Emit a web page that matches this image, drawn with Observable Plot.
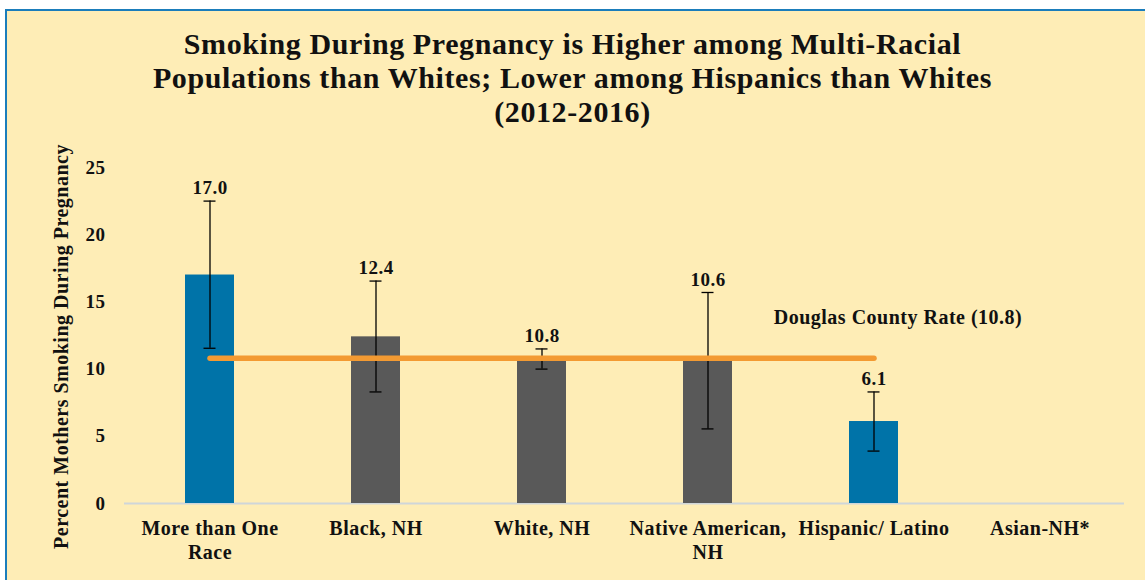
<!DOCTYPE html>
<html>
<head>
<meta charset="utf-8">
<script src="https://cdn.jsdelivr.net/npm/d3@7"></script>
<script src="https://cdn.jsdelivr.net/npm/@observablehq/plot@0.6"></script>
<style>
  html, body { margin: 0; padding: 0; background: #ffffff; width: 1145px; height: 580px; overflow: hidden; }
  #box { position: absolute; left: 5px; top: 9px; width: 1140px; height: 571px; background: #FEEDB6;
         border-left: 2px solid #1B7DBB; border-top: 2px solid #1B7DBB; }
  #title { position: absolute; left: 0; top: 27px; width: 1145px; text-align: center; letter-spacing: 0.6px;
           font-family: "Times New Roman", "DejaVu Serif", serif; font-weight: bold; font-size: 30px; line-height: 34px; color: #111; }
  #chart { position: absolute; left: 0; top: 140px; }
  #chart text { letter-spacing: 0.5px; }
</style>
</head>
<body>
<div id="box"></div>
<div id="title">Smoking During Pregnancy is Higher among Multi-Racial<br>Populations than Whites; Lower among Hispanics than Whites<br>(2012-2016)</div>
<div id="chart"></div>
<script>
const categories = ["More than One Race", "Black, NH", "White, NH", "Native American, NH", "Hispanic/ Latino", "Asian-NH*"];
const tickLabels = ["More than One\nRace", "Black, NH", "White, NH", "Native American,\nNH", "Hispanic/ Latino", "Asian-NH*"];
const values = [17.0, 12.4, 10.8, 10.6, 6.1, null];
const lower = [11.55, 8.3, 10.0, 5.55, 3.9, null];
const upper = [22.5, 16.55, 11.5, 15.7, 8.3, null];
const highlighted = [true, false, false, false, true, false];
const countyRate = 10.8;
const countyLabel = "Douglas County Rate (10.8)";
const yTicks = [0, 5, 10, 15, 20, 25];
const yLabel = "Percent Mothers Smoking During Pregnancy";

const rows = categories.map((c, i) => ({cat: c, value: values[i], lo: lower[i], hi: upper[i], hl: highlighted[i]}));
const barRows = rows.filter(d => d.value != null);
const lineRows = categories.slice(0, 5).map(c => ({cat: c, rate: countyRate}));
const tickMap = new Map(categories.map((c, i) => [c, tickLabels[i]]));

const font = "'Times New Roman', 'DejaVu Serif', serif";
const chart = Plot.plot({
  width: 1145,
  height: 440,
  marginTop: 27,
  marginBottom: 77,
  marginLeft: 124,
  marginRight: 21,
  style: {background: "transparent", fontFamily: font, fontWeight: "bold", fontSize: "19px", color: "#111", overflow: "visible"},
  x: {domain: categories, paddingInner: 0.706, paddingOuter: 0.353, align: 0.5},
  y: {domain: [0, 25]},
  marks: [
    Plot.ruleY([0], {stroke: "#CFD6D9", strokeWidth: 2}),
    Plot.barY(barRows, {x: "cat", y: "value", fill: d => d.hl ? "#0073A8" : "#595959"}),
    Plot.ruleX(barRows, {x: "cat", y1: "lo", y2: "hi", stroke: "#000", strokeWidth: 1.3}),
    Plot.tickY(barRows, {x: "cat", y: "lo", stroke: "#000", strokeWidth: 1.3, insetLeft: 18.5, insetRight: 18.5}),
    Plot.tickY(barRows, {x: "cat", y: "hi", stroke: "#000", strokeWidth: 1.3, insetLeft: 18.5, insetRight: 18.5}),
    Plot.line(lineRows, {x: "cat", y: "rate", stroke: "#F39A32", strokeWidth: 5.5, strokeLinecap: "round"}),
    Plot.text(barRows, {x: "cat", y: "hi", text: d => d.value.toFixed(1), dy: -13, fontSize: 19, fontWeight: "bold", fill: "#111"}),
    Plot.text([countyLabel], {x: [categories[4]], y: [countyRate], text: d => d, dx: 24, dy: -41, fontSize: 20, fontWeight: "bold", fill: "#111"}),
    Plot.axisY({ticks: yTicks, tickSize: 0, tickPadding: 19, label: null, fontSize: 19, fontWeight: "bold", fill: "#111"}),
    Plot.axisX({tickSize: 0, tickPadding: 14, label: null, tickFormat: d => tickMap.get(d), fontSize: 20, fontWeight: "bold", fill: "#111", lineHeight: 1.2}),
    Plot.text([yLabel], {frameAnchor: "left", textAnchor: "middle", text: d => d, rotate: -90, dx: -63, dy: 11, fontSize: 20, fontWeight: "bold", fill: "#111"})
  ]
});
document.getElementById("chart").appendChild(chart);
</script>
</body>
</html>
